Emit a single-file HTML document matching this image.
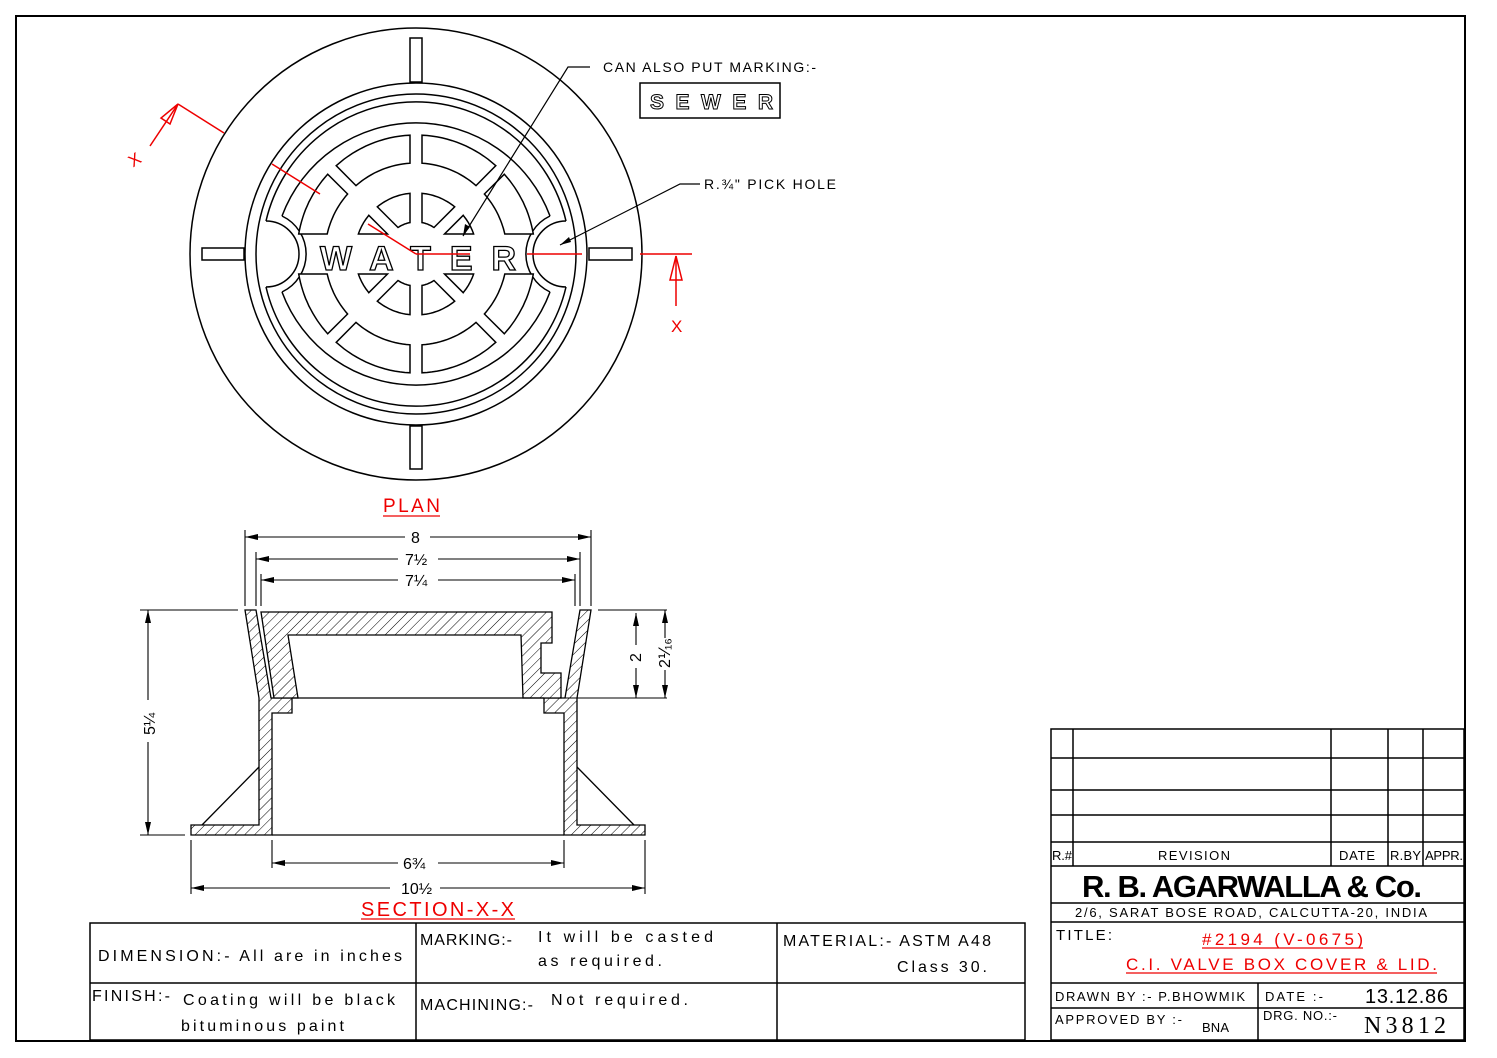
<!DOCTYPE html>
<html><head><meta charset="utf-8"><style>
html,body{margin:0;padding:0;background:#fff;}
svg{display:block;}
text{font-family:"Liberation Sans",sans-serif;fill:#000;}
.r{fill:#e00;}
</style></head><body>
<svg id="s" width="1497" height="1058" viewBox="0 0 1497 1058" xmlns="http://www.w3.org/2000/svg">
<defs>
<pattern id="h" patternUnits="userSpaceOnUse" width="7" height="7" patternTransform="rotate(45)">
<rect width="7" height="7" fill="#fff"/><line x1="0" y1="0" x2="0" y2="7" stroke="#000" stroke-width="1"/>
</pattern>
</defs>
<rect x="16" y="16" width="1449" height="1025" fill="none" stroke="#000" stroke-width="2"/>

<!-- PLAN -->
<g fill="none" stroke="#000" stroke-width="1.5">
<circle cx="416" cy="254" r="226"/>
<circle cx="416" cy="254" r="171"/>
<circle cx="416" cy="254" r="160"/>
<path d="M 266 221 A 154 154 0 0 1 566 221 M 566 287 A 154 154 0 0 1 266 287"/>
<path d="M 282 216 A 143 143 0 0 1 550 216 M 550 292 A 143 143 0 0 1 282 292"/>
<!-- pick holes -->
<path d="M 266 221 A 33 33 0 0 1 266 287"/>
<path d="M 566 221 A 33 33 0 0 0 566 287"/>
<path d="M 282 216 A 42 42 0 0 1 282 292"/>
<path d="M 550 216 A 42 42 0 0 0 550 292"/>
<!-- tabs -->
<rect x="410" y="38" width="12" height="44" fill="#fff"/>
<rect x="410" y="426" width="12" height="43" fill="#fff"/>
<rect x="202" y="248" width="42" height="12" fill="#fff"/>
<rect x="589" y="248" width="43" height="12" fill="#fff"/>
<g id="slots"></g>
</g>
<!-- WATER -->
<text x="320" y="270" font-size="34" font-weight="bold" textLength="196" lengthAdjust="spacing" style="fill:#fff;stroke:#000;stroke-width:1.3">WATER</text>
<!-- red section line -->
<g stroke="#e00" stroke-width="1.5" fill="none">
<line x1="178" y1="104" x2="224" y2="133"/>
<line x1="272" y1="164" x2="320" y2="194"/>
<line x1="368" y1="224" x2="416" y2="254"/>
<line x1="416" y1="254" x2="470" y2="254"/>
<line x1="527" y1="254" x2="582" y2="254"/>
<line x1="640" y1="254" x2="692" y2="254"/>
<line x1="150" y1="146" x2="178" y2="104"/>
<polygon points="178,104 161,118 170,124"/>
<line x1="676" y1="306" x2="676" y2="256"/>
<polygon points="676,256 670,280 682,280"/>
</g>
<text x="128" y="165" class="r" font-size="17" transform="rotate(-33 135 158)">X</text>
<text x="671" y="332" class="r" font-size="17">X</text>
<!-- leaders -->
<g stroke="#000" stroke-width="1.2" fill="none">
<polyline points="590,67 568,67 463,236"/>
<polyline points="700,184 680,184 560,245"/>
</g>
<polygon points="463,236 465,224 470,227" fill="#000"/>
<polygon points="560,245 569,237 571,242" fill="#000"/>
<text x="603" y="72" font-size="14" textLength="213">CAN ALSO PUT MARKING:-</text>
<rect x="640" y="83" width="140" height="35" fill="none" stroke="#000" stroke-width="1.5"/>
<text x="650" y="109" font-size="21" font-weight="bold" textLength="123" lengthAdjust="spacing" style="fill:#fff;stroke:#000;stroke-width:1">SEWER</text>
<text x="704" y="189" font-size="14" textLength="132">R.¾" PICK HOLE</text>
<text x="383" y="512" class="r" font-size="19" textLength="57">PLAN</text>
<line x1="383" y1="516" x2="440" y2="516" stroke="#e00" stroke-width="1.3"/>

<!-- SECTION -->
<g stroke="#000" stroke-width="1.3">
<polygon fill="url(#h)" points="245,610 256,610 271,698 292,698 292,713 272,713 272,835 191,835 191,825 259,825 259,698"/>
<polygon fill="url(#h)" points="591,610 580,610 565,698 544,698 544,713 564,713 564,835 645,835 645,825 577,825 577,698"/>
<polygon fill="url(#h)" points="261,612 552,612 552,643 541,643 541,673 561,673 561,698 523,698 521,635 288,635 298,698 274,698"/>
<line x1="259" y1="767" x2="202" y2="825"/>
<line x1="577" y1="767" x2="634" y2="825"/>
<line x1="292" y1="698" x2="544" y2="698"/>
<line x1="272" y1="835" x2="564" y2="835"/>
</g>
<g stroke="#000" stroke-width="1.1" fill="none">
<line x1="140" y1="610" x2="238" y2="610"/><line x1="598" y1="610" x2="667" y2="610"/>
<line x1="560" y1="698" x2="667" y2="698"/>
<line x1="140" y1="835" x2="185" y2="835"/>
<line x1="245" y1="530" x2="245" y2="606"/><line x1="591" y1="530" x2="591" y2="606"/>
<line x1="256" y1="552" x2="256" y2="606"/><line x1="580" y1="552" x2="580" y2="606"/>
<line x1="261" y1="574" x2="261" y2="606"/><line x1="575" y1="574" x2="575" y2="606"/>
<line x1="191" y1="840" x2="191" y2="894"/><line x1="645" y1="840" x2="645" y2="894"/>
<line x1="272" y1="840" x2="272" y2="868"/><line x1="564" y1="840" x2="564" y2="868"/>
<line x1="245" y1="537" x2="405" y2="537"/><line x1="430" y1="537" x2="591" y2="537"/>
<line x1="256" y1="559" x2="398" y2="559"/><line x1="438" y1="559" x2="580" y2="559"/>
<line x1="261" y1="580" x2="398" y2="580"/><line x1="438" y1="580" x2="575" y2="580"/>
<line x1="148" y1="610" x2="148" y2="700"/><line x1="148" y1="742" x2="148" y2="835"/>
<line x1="636" y1="613" x2="636" y2="645"/><line x1="636" y1="668" x2="636" y2="698"/>
<line x1="665" y1="610" x2="665" y2="638"/><line x1="665" y1="670" x2="665" y2="698"/>
<line x1="272" y1="863" x2="398" y2="863"/><line x1="438" y1="863" x2="564" y2="863"/>
<line x1="191" y1="888" x2="390" y2="888"/><line x1="440" y1="888" x2="645" y2="888"/>
</g>
<g fill="#000">
<polygon points="245,537 258,534 258,540"/><polygon points="591,537 578,534 578,540"/>
<polygon points="256,559 269,556 269,562"/><polygon points="580,559 567,556 567,562"/>
<polygon points="261,580 274,577 274,583"/><polygon points="575,580 562,577 562,583"/>
<polygon points="148,610 145,623 151,623"/><polygon points="148,835 145,822 151,822"/>
<polygon points="636,613 633,626 639,626"/><polygon points="636,698 633,685 639,685"/>
<polygon points="665,610 662,623 668,623"/><polygon points="665,698 662,685 668,685"/>
<polygon points="272,863 285,860 285,866"/><polygon points="564,863 551,860 551,866"/>
<polygon points="191,888 204,885 204,891"/><polygon points="645,888 632,885 632,891"/>
</g>
<g font-size="16">
<text x="411" y="543">8</text>
<text x="405" y="565">7½</text>
<text x="405" y="586">7¼</text>
<text x="403" y="869">6¾</text>
<text x="401" y="894">10½</text>
<text x="0" y="0" transform="translate(155 735) rotate(-90)">5¼</text>
<text x="0" y="0" transform="translate(641 662) rotate(-90)">2</text>
<text x="0" y="0" transform="translate(670 668) rotate(-90)">2⅟₁₆</text>
</g>
<text x="361" y="916" class="r" font-size="20" textLength="153">SECTION-X-X</text>
<line x1="361" y1="919" x2="515" y2="919" stroke="#e00" stroke-width="1.3"/>

<!-- notes table -->
<g stroke="#000" stroke-width="1.5" fill="none">
<rect x="90" y="923" width="935" height="117"/>
<line x1="90" y1="983" x2="1025" y2="983"/>
<line x1="416" y1="923" x2="416" y2="1040"/>
<line x1="777" y1="923" x2="777" y2="1040"/>
</g>
<g font-size="16">
<text x="98" y="961" textLength="304">DIMENSION:-   All are in inches</text>
<text x="420" y="945" textLength="92">MARKING:-</text>
<text x="538" y="942" textLength="175">It will be casted</text>
<text x="538" y="966" textLength="124">as required.</text>
<text x="783" y="946" textLength="208">MATERIAL:- ASTM A48</text>
<text x="897" y="972" textLength="90">Class 30.</text>
<text x="92" y="1001" textLength="78">FINISH:-</text>
<text x="183" y="1005" textLength="212">Coating will be black</text>
<text x="181" y="1031" textLength="163">bituminous paint</text>
<text x="420" y="1010" textLength="113">MACHINING:-</text>
<text x="551" y="1005" textLength="137">Not required.</text>
</g>

<!-- title block -->
<g stroke="#000" stroke-width="1.5" fill="none">
<rect x="1051" y="729" width="413" height="311"/>
<line x1="1051" y1="758" x2="1464" y2="758"/>
<line x1="1051" y1="790" x2="1464" y2="790"/>
<line x1="1051" y1="815" x2="1464" y2="815"/>
<line x1="1051" y1="842" x2="1464" y2="842"/>
<line x1="1051" y1="866" x2="1464" y2="866"/>
<line x1="1051" y1="903" x2="1464" y2="903"/>
<line x1="1051" y1="922" x2="1464" y2="922"/>
<line x1="1051" y1="983" x2="1464" y2="983"/>
<line x1="1051" y1="1008" x2="1464" y2="1008"/>
<line x1="1073" y1="729" x2="1073" y2="866"/>
<line x1="1331" y1="729" x2="1331" y2="866"/>
<line x1="1388" y1="729" x2="1388" y2="866"/>
<line x1="1423" y1="729" x2="1423" y2="866"/>
<line x1="1258" y1="983" x2="1258" y2="1040"/>
</g>
<g font-size="13">
<text x="1052" y="860" textLength="20">R.#</text>
<text x="1158" y="860" textLength="72">REVISION</text>
<text x="1339" y="860" textLength="36">DATE</text>
<text x="1390" y="860" textLength="31">R.BY</text>
<text x="1425" y="860" textLength="38">APPR.</text>
<text x="1075" y="917" textLength="352">2/6, SARAT BOSE ROAD, CALCUTTA-20, INDIA</text>
<text x="1056" y="940" font-size="15" textLength="56">TITLE:</text>
<text x="1055" y="1001" textLength="190">DRAWN BY :- P.BHOWMIK</text>
<text x="1265" y="1001" textLength="58">DATE :-</text>
<text x="1055" y="1024" textLength="127">APPROVED BY :-</text>
<text x="1202" y="1032" textLength="27">BNA</text>
<text x="1263" y="1020" textLength="74">DRG. NO.:-</text>
</g>
<text x="1082" y="897" font-size="31" font-weight="bold" textLength="340" lengthAdjust="spacing">R. B. AGARWALLA &amp; Co.</text>
<text x="1202" y="945" class="r" font-size="17" textLength="161">#2194 (V-0675)</text>
<line x1="1202" y1="948" x2="1363" y2="948" stroke="#e00" stroke-width="1.2"/>
<text x="1126" y="970" class="r" font-size="17" textLength="311">C.I. VALVE BOX COVER &amp; LID.</text>
<line x1="1126" y1="973" x2="1437" y2="973" stroke="#e00" stroke-width="1.2"/>
<text x="1365" y="1003" font-size="20" textLength="83">13.12.86</text>
<text x="1364" y="1033" font-size="24" style="font-family:'Liberation Serif',serif" textLength="82">N3812</text>
</svg>
<script>
(function(){
var cx=416,cy=254,g=document.getElementById('slots'),d='';
var D=Math.PI/180;
function slot(r1,r2,lo,hi){
  var pts=[],i,n=16,a;
  var ri=r1; if(lo(ri)>hi(ri)){var A=r1,B=r2;for(i=0;i<30;i++){var m=(A+B)/2; if(lo(m)>hi(m))A=m; else B=m;} ri=B;}
  for(i=0;i<=n;i++){a=lo(r2)+(hi(r2)-lo(r2))*i/n;pts.push([r2*Math.cos(a),r2*Math.sin(a)]);}
  for(i=n;i>=0;i--){a=lo(ri)+(hi(ri)-lo(ri))*i/n;pts.push([ri*Math.cos(a),ri*Math.sin(a)]);}
  return pts;
}
function emit(pts){
  [[1,1],[-1,1],[1,-1],[-1,-1]].forEach(function(s){
    d+='M'+pts.map(function(p){return (cx+s[0]*p[0]).toFixed(1)+' '+(cy-s[1]*p[1]).toFixed(1);}).join(' L')+' Z ';
  });
}
var w=6,h=20;
function asn(x){return Math.asin(Math.min(1,x));}
emit(slot(32,61,function(r){return 45*D+asn(w/r);},function(r){return 90*D-asn(w/r);}));
emit(slot(32,61,function(r){return asn(h/r);},function(r){return 45*D-asn(w/r);}));
emit(slot(91,119,function(r){return 45*D+asn(w/r);},function(r){return 90*D-asn(w/r);}));
emit(slot(91,119,function(r){return asn(h/r);},function(r){return 45*D-asn(w/r);}));
g.innerHTML='<path d="'+d+'" fill="#fff"/>';
})();
</script>
</body></html>
